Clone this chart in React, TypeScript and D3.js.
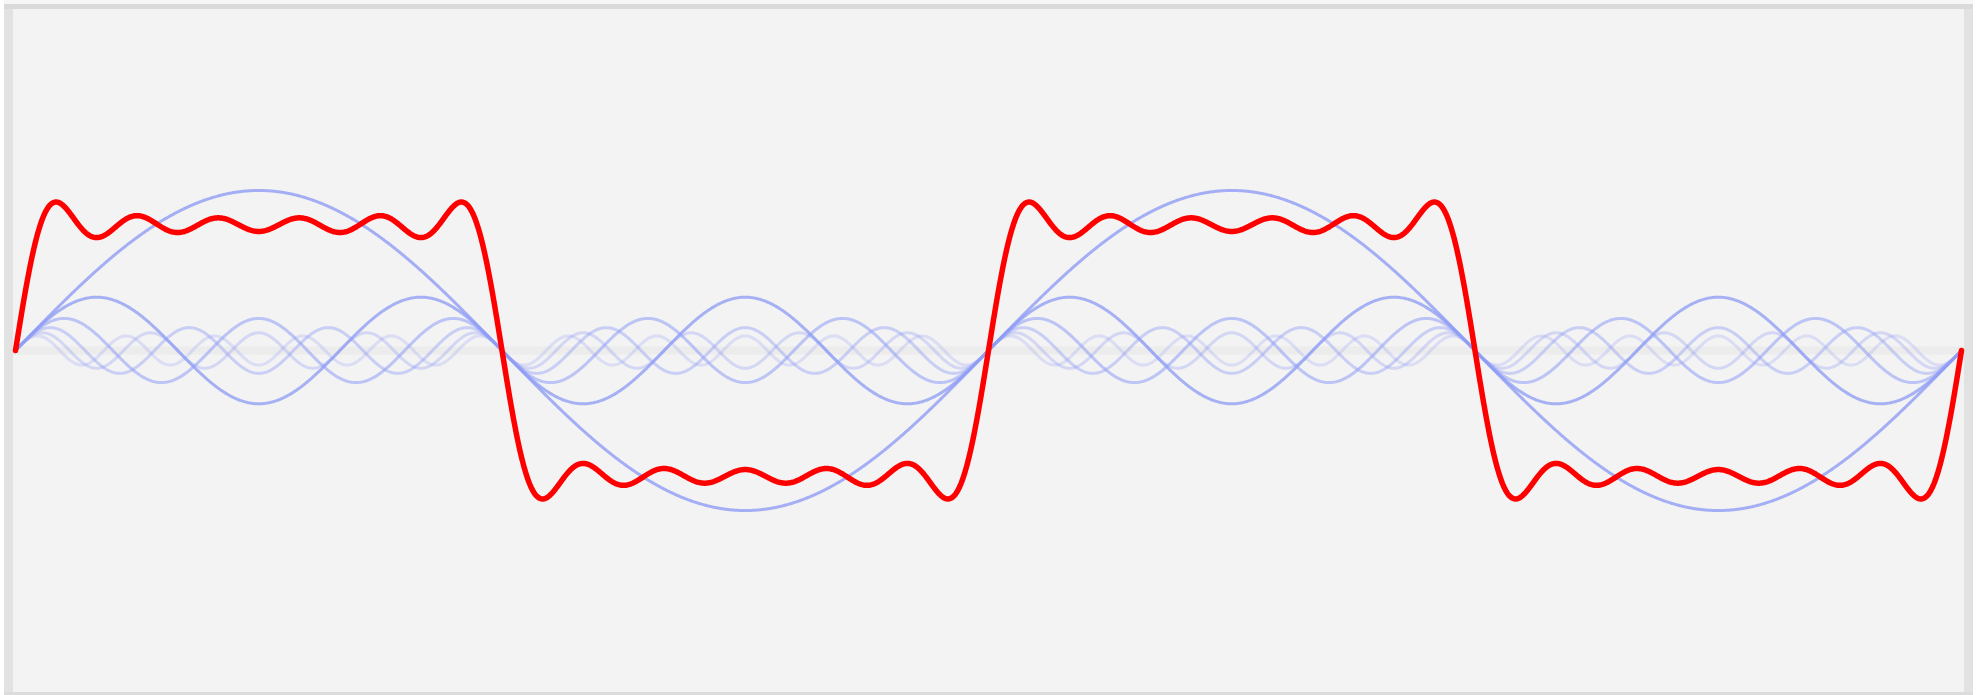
import React from "react";
import * as d3 from "d3";

// Odd harmonics of the square wave and their amplitudes (in units of the square level)
const harmonics = [1, 3, 5, 7, 9, 11];
const amplitudes = [1.273, 0.424, 0.255, 0.182, 0.141, 0.116];

// Two full periods are shown
const periods = 2;

// Styling for each harmonic trace
const harmonicOpacity = [0.8, 0.76, 0.55, 0.42, 0.32, 0.25];

const W = 1985;
const H = 695;

export default function App() {
  const x = d3.scaleLinear().domain([0, periods * 2 * Math.PI]).range([15.5, 1961.5]);
  const y = d3.scaleLinear().domain([-1, 1]).range([350.5 + 125.7, 350.5 - 125.7]);

  const samples = d3.range(0, 2400 + 1).map((i) => (i / 2400) * periods * 2 * Math.PI);

  const line = d3
    .line<[number, number]>()
    .x((d) => x(d[0]))
    .y((d) => y(d[1]));

  const harmonicPaths = harmonics.map((n, k) =>
    line(samples.map((t) => [t, amplitudes[k] * Math.sin(n * t)] as [number, number]))
  );

  const sumPath = line(
    samples.map(
      (t) =>
        [t, d3.sum(harmonics, (n, k) => amplitudes[k] * Math.sin(n * t))] as [number, number]
    )
  );

  return (
    <svg
      width={W}
      height={H}
      style={{ position: "absolute", left: 0, top: 0, display: "block" }}
    >
      <rect x={0} y={0} width={W} height={H} fill="#ffffff" />
      <rect x={4} y={0} width={1969} height={4} fill="#f6f6f6" />
      <rect x={4} y={4} width={1969} height={H - 4} fill="#e2e2e2" />
      <rect x={4} y={4} width={1969} height={5} fill="#dadada" />
      <rect x={4} y={692} width={1969} height={3} fill="#dcdcdc" />
      <rect x={13} y={9} width={1951} height={683} fill="#f3f3f3" />

      {/* zero line */}
      <line
        x1={13}
        x2={1964}
        y1={y(0)}
        y2={y(0)}
        stroke="#ececec"
        strokeWidth={8}
      />

      <g fill="none" strokeLinejoin="round" strokeLinecap="round">
        {harmonicPaths
          .map((d, k) => ({ d, k }))
          .reverse()
          .map(({ d, k }) => (
            <path
              key={k}
              d={d ?? ""}
              stroke="#8e9cf5"
              strokeOpacity={harmonicOpacity[k]}
              strokeWidth={3}
            />
          ))}
        <path d={sumPath ?? ""} stroke="#ff0000" strokeWidth={5.5} />
      </g>
    </svg>
  );
}
